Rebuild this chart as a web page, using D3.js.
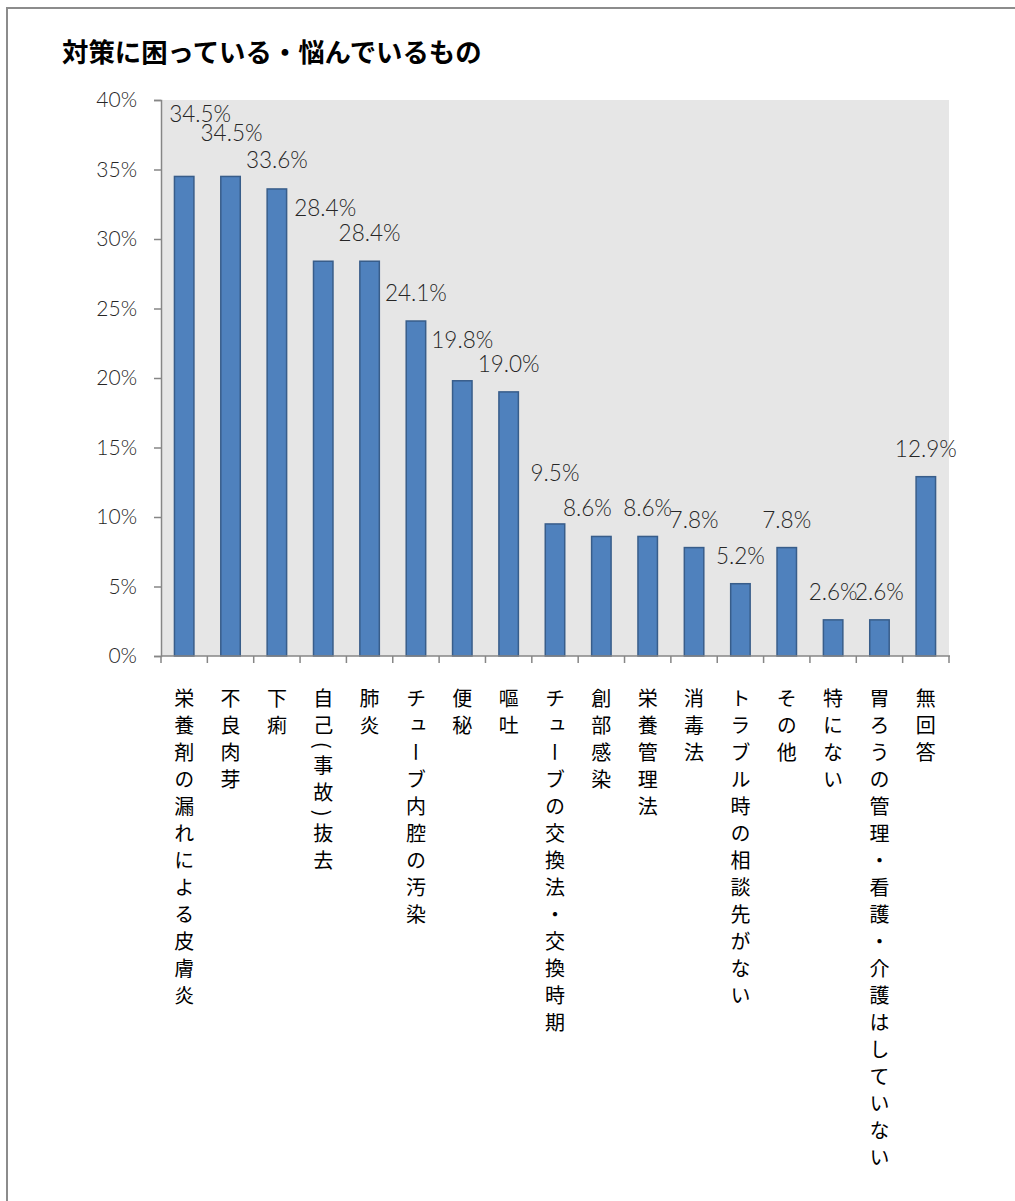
<!DOCTYPE html>
<html><head><meta charset="utf-8">
<script src="https://cdn.jsdelivr.net/npm/d3@7/dist/d3.min.js"></script>
<style>
html,body{margin:0;padding:0;background:#fff;}
svg{display:block;}
</style></head>
<body><svg id="chart" width="1015" height="1201"></svg>
<script>
const title = "対策に困っている・悩んでいるもの";
const categories = ["栄養剤の漏れによる皮膚炎","不良肉芽","下痢","自己(事故)抜去","肺炎","チューブ内腔の汚染","便秘","嘔吐","チューブの交換法・交換時期","創部感染","栄養管理法","消毒法","トラブル時の相談先がない","その他","特にない","胃ろうの管理・看護・介護はしていない","無回答"];
const values = [34.5,34.5,33.6,28.4,28.4,24.1,19.8,19.0,9.5,8.6,8.6,7.8,5.2,7.8,2.6,2.6,12.9];
const yTicks = [0,5,10,15,20,25,30,35,40];
// manual label nudges (layout only), [dx, dy]
const labelNudge = [[16,-34],[1,-15],[0,-1],[2,-25],[0,0],[0,0],[0,-13],[0,0],[0,-23],[-14,0],[0,0],[0,0],[0,0],[0,0],[0,0],[0,0],[0,0]];

const svg = d3.select("#chart");
const L = 161, R = 949, T = 100, B = 656;
const numFont = "Lato, 'Open Sans', sans-serif";
const cjkFont = "'Noto Sans CJK JP', sans-serif";

// frame
svg.append("path").attr("d", `M7,1201 V8 H1015`).attr("fill","none").attr("stroke","#8c8c8c").attr("stroke-width",2);

// title
svg.append("text").attr("x",62).attr("y",62).attr("font-family",cjkFont).attr("font-weight",700)
  .attr("font-size",26.4).attr("fill","#000").text(title);

const x = d3.scaleBand().domain(categories).range([L,R]).paddingInner(0.58).paddingOuter(0.29);
const y = d3.scaleLinear().domain([0,40]).range([B,T]);

// plot bg
svg.append("rect").attr("x",L).attr("y",T).attr("width",R-L).attr("height",B-T).attr("fill","#e6e6e6");

// bars
svg.append("g").selectAll("rect").data(values).join("rect")
  .attr("x",(d,i)=>x(categories[i])).attr("y",d=>y(d))
  .attr("width",x.bandwidth()).attr("height",d=>B-y(d))
  .attr("fill","#4f81bd").attr("stroke","#385d8a").attr("stroke-width",1.5);

// y axis
const yAxis = svg.append("g").attr("transform",`translate(${L},0)`)
  .call(d3.axisLeft(y).tickValues(yTicks).tickFormat(d=>d+"%").tickSize(7).tickPadding(17));
yAxis.select(".domain").attr("stroke","#868686").attr("stroke-width",1.5);
yAxis.selectAll(".tick line").attr("stroke","#868686").attr("stroke-width",1.5);
yAxis.selectAll(".tick text").attr("font-family",numFont).attr("font-weight",300).attr("font-size",21).attr("fill","#262626");

// x axis
const xg = svg.append("g");
xg.append("line").attr("x1",L).attr("x2",R+1).attr("y1",B).attr("y2",B).attr("stroke","#868686").attr("stroke-width",1.5);
const step = x.step();
xg.selectAll("line.tk").data(d3.range(categories.length+1)).join("line").attr("class","tk")
  .attr("x1",i=>L+i*step).attr("x2",i=>L+i*step).attr("y1",B).attr("y2",B+7)
  .attr("stroke","#868686").attr("stroke-width",1.5);

// category labels (vertical)
svg.append("g").selectAll("text").data(categories).join("text")
  .attr("x",d=>x(d)+x.bandwidth()/2).attr("y",688)
  .style("writing-mode","vertical-rl").style("letter-spacing","7px")
  .attr("font-family",cjkFont).attr("font-size",20).attr("fill","#000")
  .text(d=>d);

// data labels
svg.append("g").selectAll("text").data(values).join("text")
  .attr("x",(d,i)=>x(categories[i])+x.bandwidth()/2+labelNudge[i][0])
  .attr("y",(d,i)=>y(d)-20+labelNudge[i][1])
  .attr("text-anchor","middle").attr("font-family",numFont).attr("font-weight",300)
  .attr("font-size",22.5).attr("fill","#262626")
  .text(d=>d.toFixed(1)+"%");
</script></body></html>
